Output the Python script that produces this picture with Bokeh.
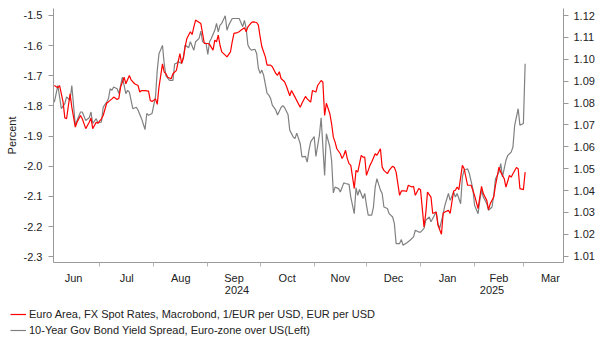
import pandas as pd
from bokeh.plotting import figure
from bokeh.layouts import column
from bokeh.models import (Range1d, LinearAxis, FixedTicker, PrintfTickFormatter,
                          Legend, LegendItem, ColumnDataSource)
from bokeh.embed import file_html
from bokeh.resources import INLINE

FONT = "Liberation Sans"
TXT = "#222222"

# ---------------- data ----------------
gray_dates = [
    "2024-06-05", "2024-06-07", "2024-06-09", "2024-06-11", "2024-06-12", "2024-06-14", "2024-06-15",
    "2024-06-17", "2024-06-18", "2024-06-20", "2024-06-21", "2024-06-23", "2024-06-25", "2024-06-26",
    "2024-06-27", "2024-06-29", "2024-06-30", "2024-07-02", "2024-07-03", "2024-07-05", "2024-07-06",
    "2024-07-07", "2024-07-08", "2024-07-09", "2024-07-11", "2024-07-12", "2024-07-14", "2024-07-16",
    "2024-07-17", "2024-07-18", "2024-07-20", "2024-07-22", "2024-07-23", "2024-07-25", "2024-07-27",
    "2024-07-28", "2024-07-29", "2024-07-31", "2024-08-02", "2024-08-03", "2024-08-04", "2024-08-06",
    "2024-08-07", "2024-08-08", "2024-08-09", "2024-08-10", "2024-08-12", "2024-08-13", "2024-08-14",
    "2024-08-15", "2024-08-17", "2024-08-18", "2024-08-19", "2024-08-21", "2024-08-22", "2024-08-24",
    "2024-08-25", "2024-08-27", "2024-08-28", "2024-08-29", "2024-08-31", "2024-09-01", "2024-09-02",
    "2024-09-03", "2024-09-05", "2024-09-06", "2024-09-07", "2024-09-08", "2024-09-09", "2024-09-11",
    "2024-09-12", "2024-09-13", "2024-09-15", "2024-09-16", "2024-09-18", "2024-09-19", "2024-09-21",
    "2024-09-22", "2024-09-23", "2024-09-24", "2024-09-25", "2024-09-26", "2024-09-28", "2024-09-29",
    "2024-09-30", "2024-10-01", "2024-10-02", "2024-10-03", "2024-10-05", "2024-10-06", "2024-10-07",
    "2024-10-08", "2024-10-10", "2024-10-11", "2024-10-13", "2024-10-14", "2024-10-15", "2024-10-17",
    "2024-10-18", "2024-10-20", "2024-10-21", "2024-10-22", "2024-10-24", "2024-10-25", "2024-10-27",
    "2024-10-28", "2024-10-29", "2024-10-30", "2024-11-01", "2024-11-02", "2024-11-04", "2024-11-05",
    "2024-11-07", "2024-11-08", "2024-11-10", "2024-11-11", "2024-11-12", "2024-11-13", "2024-11-15",
    "2024-11-16", "2024-11-18", "2024-11-19", "2024-11-21", "2024-11-22", "2024-11-24", "2024-11-25",
    "2024-11-26", "2024-11-27", "2024-11-29", "2024-11-30", "2024-12-01", "2024-12-02", "2024-12-04",
    "2024-12-05", "2024-12-06", "2024-12-07", "2024-12-09", "2024-12-10", "2024-12-11", "2024-12-13",
    "2024-12-14", "2024-12-16", "2024-12-17", "2024-12-18", "2024-12-20", "2024-12-21", "2024-12-22",
    "2024-12-24", "2024-12-26", "2024-12-28", "2024-12-29", "2024-12-31", "2025-01-01", "2025-01-03",
    "2025-01-04", "2025-01-06", "2025-01-07", "2025-01-09", "2025-01-10", "2025-01-11", "2025-01-12",
    "2025-01-14", "2025-01-15", "2025-01-17", "2025-01-18", "2025-01-20", "2025-01-21", "2025-01-22",
    "2025-01-24", "2025-01-25", "2025-01-26", "2025-01-28", "2025-01-29", "2025-01-31", "2025-02-01",
    "2025-02-03", "2025-02-04", "2025-02-05", "2025-02-06", "2025-02-08", "2025-02-09", "2025-02-11",
    "2025-02-12", "2025-02-13", "2025-02-15", "2025-02-16", "2025-02-17", "2025-02-19", "2025-02-20",
    "2025-02-22", "2025-02-23", "2025-02-24", "2025-02-26", "2025-02-27", "2025-03-01", "2025-03-02",
]
gray_spread = [
    -1.787, -1.732, -1.809, -1.792, -1.770, -1.781, -1.732,
    -1.864, -1.848, -1.820, -1.820, -1.848, -1.839, -1.820,
    -1.858, -1.842, -1.856, -1.853, -1.804, -1.787, -1.776,
    -1.743, -1.748, -1.737, -1.743, -1.759, -1.704, -1.759,
    -1.748, -1.754, -1.809, -1.804, -1.814, -1.842, -1.878,
    -1.825, -1.831, -1.825, -1.770, -1.682, -1.627, -1.599,
    -1.660, -1.700, -1.708, -1.715, -1.715, -1.660, -1.659,
    -1.653, -1.659, -1.637, -1.598, -1.607, -1.587, -1.615,
    -1.587, -1.576, -1.552, -1.587, -1.593, -1.629, -1.587,
    -1.576, -1.549, -1.526, -1.554, -1.532, -1.526, -1.501,
    -1.549, -1.532, -1.510, -1.510, -1.510, -1.510, -1.537,
    -1.516, -1.543, -1.598, -1.609, -1.615, -1.612, -1.626,
    -1.675, -1.692, -1.681, -1.698, -1.758, -1.764, -1.775,
    -1.797, -1.814, -1.830, -1.805, -1.799, -1.805, -1.828,
    -1.880, -1.903, -1.908, -1.890, -1.925, -1.969, -1.967,
    -1.986, -1.947, -1.919, -1.901, -1.967, -1.897, -1.839,
    -2.030, -1.892, -1.936, -1.980, -2.088, -2.069, -2.074,
    -2.085, -2.055, -2.057, -2.060, -2.102, -2.157, -2.071,
    -2.096, -2.077, -2.107, -2.090, -2.129, -2.162, -2.162,
    -2.135, -2.069, -2.041, -2.079, -2.090, -2.135, -2.140,
    -2.157, -2.168, -2.190, -2.256, -2.256, -2.243, -2.262,
    -2.254, -2.245, -2.234, -2.212, -2.218, -2.218, -2.206,
    -2.179, -2.168, -2.184, -2.162, -2.151, -2.190, -2.206,
    -2.157, -2.129, -2.090, -2.113, -2.085, -2.102, -2.090,
    -2.124, -2.035, -2.013, -2.008, -2.024, -2.074, -2.129,
    -2.157, -2.113, -2.079, -2.102, -2.124, -2.146, -2.135,
    -2.096, -2.041, -2.019, -1.991, -2.035, -1.980, -1.964,
    -1.953, -1.936, -1.864, -1.809, -1.864, -1.858, -1.660,
]

red_dates = [
    "2024-06-05", "2024-06-07", "2024-06-08", "2024-06-10", "2024-06-11", "2024-06-12", "2024-06-14",
    "2024-06-15", "2024-06-17", "2024-06-18", "2024-06-20", "2024-06-21", "2024-06-23", "2024-06-25",
    "2024-06-26", "2024-06-27", "2024-06-29", "2024-06-30", "2024-07-02", "2024-07-03", "2024-07-05",
    "2024-07-07", "2024-07-08", "2024-07-09", "2024-07-11", "2024-07-12", "2024-07-13", "2024-07-15",
    "2024-07-16", "2024-07-18", "2024-07-19", "2024-07-21", "2024-07-23", "2024-07-24", "2024-07-25",
    "2024-07-27", "2024-07-29", "2024-07-30", "2024-07-31", "2024-08-02", "2024-08-03", "2024-08-04",
    "2024-08-06", "2024-08-07", "2024-08-08", "2024-08-09", "2024-08-11", "2024-08-12", "2024-08-14",
    "2024-08-15", "2024-08-16", "2024-08-17", "2024-08-18", "2024-08-19", "2024-08-20", "2024-08-22",
    "2024-08-23", "2024-08-24", "2024-08-25", "2024-08-26", "2024-08-28", "2024-08-29", "2024-08-30",
    "2024-09-01", "2024-09-02", "2024-09-04", "2024-09-05", "2024-09-06", "2024-09-07", "2024-09-08",
    "2024-09-09", "2024-09-11", "2024-09-12", "2024-09-14", "2024-09-15", "2024-09-16", "2024-09-18",
    "2024-09-19", "2024-09-20", "2024-09-22", "2024-09-23", "2024-09-24", "2024-09-26", "2024-09-27",
    "2024-09-29", "2024-09-30", "2024-10-01", "2024-10-02", "2024-10-03", "2024-10-04", "2024-10-05",
    "2024-10-07", "2024-10-08", "2024-10-10", "2024-10-11", "2024-10-12", "2024-10-13", "2024-10-15",
    "2024-10-16", "2024-10-18", "2024-10-19", "2024-10-21", "2024-10-24", "2024-10-25", "2024-10-27",
    "2024-10-28", "2024-10-30", "2024-10-31", "2024-11-02", "2024-11-03", "2024-11-05", "2024-11-06",
    "2024-11-07", "2024-11-08", "2024-11-10", "2024-11-11", "2024-11-12", "2024-11-13", "2024-11-14",
    "2024-11-16", "2024-11-17", "2024-11-18", "2024-11-19", "2024-11-20", "2024-11-21", "2024-11-22",
    "2024-11-24", "2024-11-25", "2024-11-26", "2024-11-28", "2024-11-29", "2024-11-30", "2024-12-01",
    "2024-12-03", "2024-12-04", "2024-12-06", "2024-12-07", "2024-12-08", "2024-12-09", "2024-12-10",
    "2024-12-11", "2024-12-13", "2024-12-14", "2024-12-16", "2024-12-17", "2024-12-18", "2024-12-20",
    "2024-12-21", "2024-12-23", "2024-12-24", "2024-12-25", "2024-12-27", "2024-12-28", "2024-12-29",
    "2024-12-31", "2025-01-01", "2025-01-03", "2025-01-04", "2025-01-05", "2025-01-07", "2025-01-08",
    "2025-01-10", "2025-01-11", "2025-01-13", "2025-01-14", "2025-01-15", "2025-01-17", "2025-01-18",
    "2025-01-20", "2025-01-21", "2025-01-22", "2025-01-23", "2025-01-25", "2025-01-26", "2025-01-28",
    "2025-01-29", "2025-01-30", "2025-02-01", "2025-02-03", "2025-02-04", "2025-02-05", "2025-02-06",
    "2025-02-08", "2025-02-09", "2025-02-10", "2025-02-12", "2025-02-13", "2025-02-15", "2025-02-16",
    "2025-02-18", "2025-02-19", "2025-02-21", "2025-02-22", "2025-02-23", "2025-02-25", "2025-02-26",
    "2025-02-27", "2025-03-01", "2025-03-02",
]
red_fx = [
    1.0880, 1.0870, 1.0880, 1.0804, 1.0732, 1.0728, 1.0842,
    1.0781, 1.0690, 1.0712, 1.0743, 1.0728, 1.0683, 1.0712,
    1.0732, 1.0683, 1.0712, 1.0708, 1.0728, 1.0743, 1.0799,
    1.0812, 1.0819, 1.0827, 1.0816, 1.0822, 1.0873, 1.0918,
    1.0888, 1.0926, 1.0906, 1.0888, 1.0880, 1.0850, 1.0857,
    1.0857, 1.0854, 1.0812, 1.0807, 1.0819, 1.0794, 1.0873,
    1.0979, 1.0941, 1.0934, 1.0918, 1.0911, 1.0934, 1.0949,
    1.0989, 1.1026, 1.0981, 1.1004, 1.1057, 1.1095, 1.1126,
    1.1113, 1.1148, 1.1179, 1.1174, 1.1163, 1.1118, 1.1072,
    1.1072, 1.1068, 1.1042, 1.1087, 1.1080, 1.1110, 1.1064,
    1.1034, 1.1019, 1.1011, 1.1034, 1.1080, 1.1118, 1.1122,
    1.1126, 1.1133, 1.1144, 1.1126, 1.1148, 1.1168, 1.1171,
    1.1168, 1.1156, 1.1103, 1.1057, 1.1034, 1.1011, 1.0973,
    1.0973, 1.0966, 1.0935, 1.0927, 1.0943, 1.0912, 1.0897,
    1.0879, 1.0833, 1.0857, 1.0827, 1.0781, 1.0799, 1.0830,
    1.0819, 1.0804, 1.0857, 1.0850, 1.0880, 1.0903, 1.0895,
    1.0743, 1.0799, 1.0751, 1.0705, 1.0644, 1.0621, 1.0591,
    1.0568, 1.0546, 1.0561, 1.0584, 1.0546, 1.0523, 1.0515,
    1.0409, 1.0492, 1.0484, 1.0561, 1.0553, 1.0553, 1.0469,
    1.0515, 1.0530, 1.0568, 1.0561, 1.0576, 1.0591, 1.0507,
    1.0492, 1.0477, 1.0492, 1.0511, 1.0505, 1.0484, 1.0378,
    1.0398, 1.0398, 1.0396, 1.0424, 1.0416, 1.0419, 1.0378,
    1.0409, 1.0404, 1.0233, 1.0295, 1.0393, 1.0370, 1.0295,
    1.0302, 1.0241, 1.0200, 1.0297, 1.0302, 1.0310, 1.0295,
    1.0398, 1.0401, 1.0416, 1.0404, 1.0515, 1.0500, 1.0424,
    1.0424, 1.0424, 1.0378, 1.0317, 1.0370, 1.0419, 1.0386,
    1.0355, 1.0313, 1.0340, 1.0370, 1.0424, 1.0507, 1.0484,
    1.0454, 1.0416, 1.0469, 1.0461, 1.0477, 1.0505, 1.0500,
    1.0409, 1.0404, 1.0484,
]

left_ticks = [-2.3, -2.2, -2.1, -2.0, -1.9, -1.8, -1.7, -1.6, -1.5]
right_ticks = [1.01, 1.02, 1.03, 1.04, 1.05, 1.06, 1.07, 1.08, 1.09, 1.10, 1.11, 1.12]
month_starts = ["2024-06-01", "2024-07-01", "2024-08-01", "2024-09-01", "2024-10-01",
                "2024-11-01", "2024-12-01", "2025-01-01", "2025-02-01", "2025-03-01", "2025-04-01"]
month_labels = ["Jun", "Jul", "Aug", "Sep", "Oct", "Nov", "Dec", "Jan", "Feb", "Mar"]
year_start = "2025-01-01"
year_labels = ["2024", "2025"]
view_start, view_end = "2024-06-04 12:00", "2025-03-24"

red_name = "Euro Area, FX Spot Rates, Macrobond, 1/EUR per USD, EUR per USD"
gray_name = "10-Year Gov Bond Yield Spread, Euro-zone over US(Left)"

RED, GRAY = "#ff0000", "#808080"


def ms(s):
    return float(pd.Timestamp(s).value // 1_000_000)


# ---------------- main chart ----------------
x0, x1 = ms(view_start), ms(view_end)
p = figure(width=603, height=300, output_backend="svg", toolbar_location=None,
           x_axis_type=None, x_range=Range1d(x0, x1), y_range=Range1d(-2.3189, -1.4768),
           min_border_left=53, min_border_right=40, min_border_top=8, min_border_bottom=38)
p.frame_align = False
p.extra_y_ranges = {"right": Range1d(1.0071, 1.1232)}
p.outline_line_color = None
p.ygrid.grid_line_color = None
p.background_fill_color = "white"
p.border_fill_color = "white"

gsrc = ColumnDataSource(dict(x=pd.to_datetime(gray_dates), y=gray_spread))
rsrc = ColumnDataSource(dict(x=pd.to_datetime(red_dates), y=red_fx))
p.line("x", "y", source=gsrc, line_color=GRAY, line_width=1.2)
p.line("x", "y", source=rsrc, line_color=RED, line_width=1.2, y_range_name="right")


def style_axis(ax):
    ax.major_label_text_font = FONT
    ax.major_label_text_font_size = "11px"
    ax.major_label_text_color = TXT
    ax.axis_line_color = "#999999"
    ax.major_tick_line_color = "#999999"
    ax.minor_tick_line_color = None


# left axis
ly = p.yaxis[0]
ly.ticker = FixedTicker(ticks=left_ticks)
ly.formatter = PrintfTickFormatter(format="%.1f")
style_axis(ly)
ly.major_tick_out = 5
ly.major_tick_in = 0
ly.major_label_standoff = 6
ly.axis_label = "Percent"
ly.axis_label_text_font = FONT
ly.axis_label_text_font_size = "11px"
ly.axis_label_text_font_style = "normal"
ly.axis_label_text_color = TXT
ly.axis_label_standoff = 3

# right axis
ry = LinearAxis(y_range_name="right", ticker=FixedTicker(ticks=right_ticks),
                formatter=PrintfTickFormatter(format="%.2f"))
style_axis(ry)
ry.major_tick_out = 5
ry.major_tick_in = 0
ry.major_label_standoff = 5
p.add_layout(ry, "right")

# bottom axis line with short ticks at month boundaries
bounds = [ms(m) for m in month_starts]
ax_t = LinearAxis(ticker=FixedTicker(ticks=[], minor_ticks=bounds))
style_axis(ax_t)
ax_t.major_tick_out = 4
ax_t.major_tick_in = 0
ax_t.minor_tick_line_color = "#b4b4b4"
ax_t.minor_tick_out = 4
ax_t.minor_tick_in = 0
ax_t.major_label_standoff = 0
p.add_layout(ax_t, "below")

# month labels (centred in each month)
mids = [(a + b) / 2 for a, b in zip(bounds[:-1], bounds[1:])]
ax_m = LinearAxis(ticker=FixedTicker(ticks=mids, minor_ticks=[]),
                  major_label_overrides={m: lab for m, lab in zip(mids, month_labels)})
style_axis(ax_m)
ax_m.axis_line_color = None
ax_m.major_tick_line_color = None
ax_m.major_tick_out = 0
ax_m.major_tick_in = 0
ax_m.major_label_standoff = 5
p.add_layout(ax_m, "below")

# year labels (centred on each year's visible span)
yb = [x0, ms(year_start), x1]
ycent = [(a + b) / 2 for a, b in zip(yb[:-1], yb[1:])]
ax_y = LinearAxis(ticker=FixedTicker(ticks=ycent, minor_ticks=[]),
                  major_label_overrides={c: lab for c, lab in zip(ycent, year_labels)})
style_axis(ax_y)
ax_y.axis_line_color = None
ax_y.major_tick_line_color = None
ax_y.major_tick_out = 0
ax_y.major_tick_in = 0
ax_y.major_label_standoff = -1
p.add_layout(ax_y, "below")

# ---------------- legend strip ----------------
lg = figure(width=603, height=52, output_backend="svg", toolbar_location=None,
            x_axis_type=None, y_axis_type=None, x_range=Range1d(0, 1), y_range=Range1d(0, 1),
            min_border_left=0, min_border_right=0, min_border_top=0, min_border_bottom=0)
lg.frame_align = False
lg.outline_line_color = None
lg.background_fill_color = "white"
lg.border_fill_color = "white"
# same series, drawn outside this strip's view; only their legend swatches show
lr = lg.line("x", "y", source=rsrc, line_color=RED, line_width=1.2)
lgr = lg.line("x", "y", source=gsrc, line_color=GRAY, line_width=1.2)

legend = Legend(items=[LegendItem(label=red_name, renderers=[lr]),
                       LegendItem(label=gray_name, renderers=[lgr])],
                location=(10, 14), orientation="vertical",
                glyph_width=16, glyph_height=16, label_height=16, label_standoff=3,
                padding=0, spacing=0, margin=0, border_line_color=None,
                background_fill_alpha=0, label_text_font=FONT,
                label_text_font_size="11px", label_text_color=TXT)
lg.add_layout(legend, "center")

page = column(p, lg, spacing=0)
open("out.html", "w").write(file_html(page, INLINE))
